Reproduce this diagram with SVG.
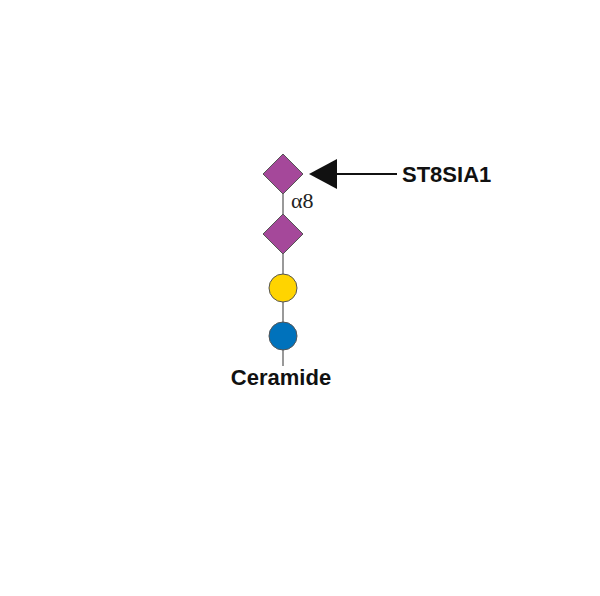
<svg xmlns="http://www.w3.org/2000/svg" width="600" height="596" viewBox="0 0 600 596">
<style>
.edge{stroke:#555;stroke-width:1.2;fill:none}
.sia{fill:#A5489A;stroke:#555;stroke-width:1}
.gal{fill:#FFD400;stroke:#555;stroke-width:1}
.glc{fill:#0072BC;stroke:#555;stroke-width:1}
.lbl{font-family:"Liberation Sans",Arial,sans-serif;font-weight:bold;font-size:22px;fill:#111}
.link{font-family:"Liberation Serif","Times New Roman",serif;font-size:22px;fill:#222}
</style>
<rect width="600" height="596" fill="#fff"/>
<g id="connectors">
<line class="edge" x1="283" y1="174" x2="283" y2="366"/>
<line x1="336" y1="174" x2="397" y2="174" stroke="#111" stroke-width="2"/>
<polygon points="309,174 337,159 337,189" fill="#111"/>
<text class="link" x="291" y="208">α8</text>
</g>
<g id="sia1"><polygon class="sia" points="283,154 303,174 283,194 263,174"/></g>
<g id="sia2"><polygon class="sia" points="283,214 303,234 283,254 263,234"/></g>
<g id="gal"><circle class="gal" cx="283" cy="288" r="14"/></g>
<g id="glc"><circle class="glc" cx="283" cy="336" r="14"/></g>
<g id="enzyme"><text class="lbl" x="402" y="182">ST8SIA1</text></g>
<g id="ceramide"><text class="lbl" x="281" y="385" text-anchor="middle">Ceramide</text></g>
</svg>
